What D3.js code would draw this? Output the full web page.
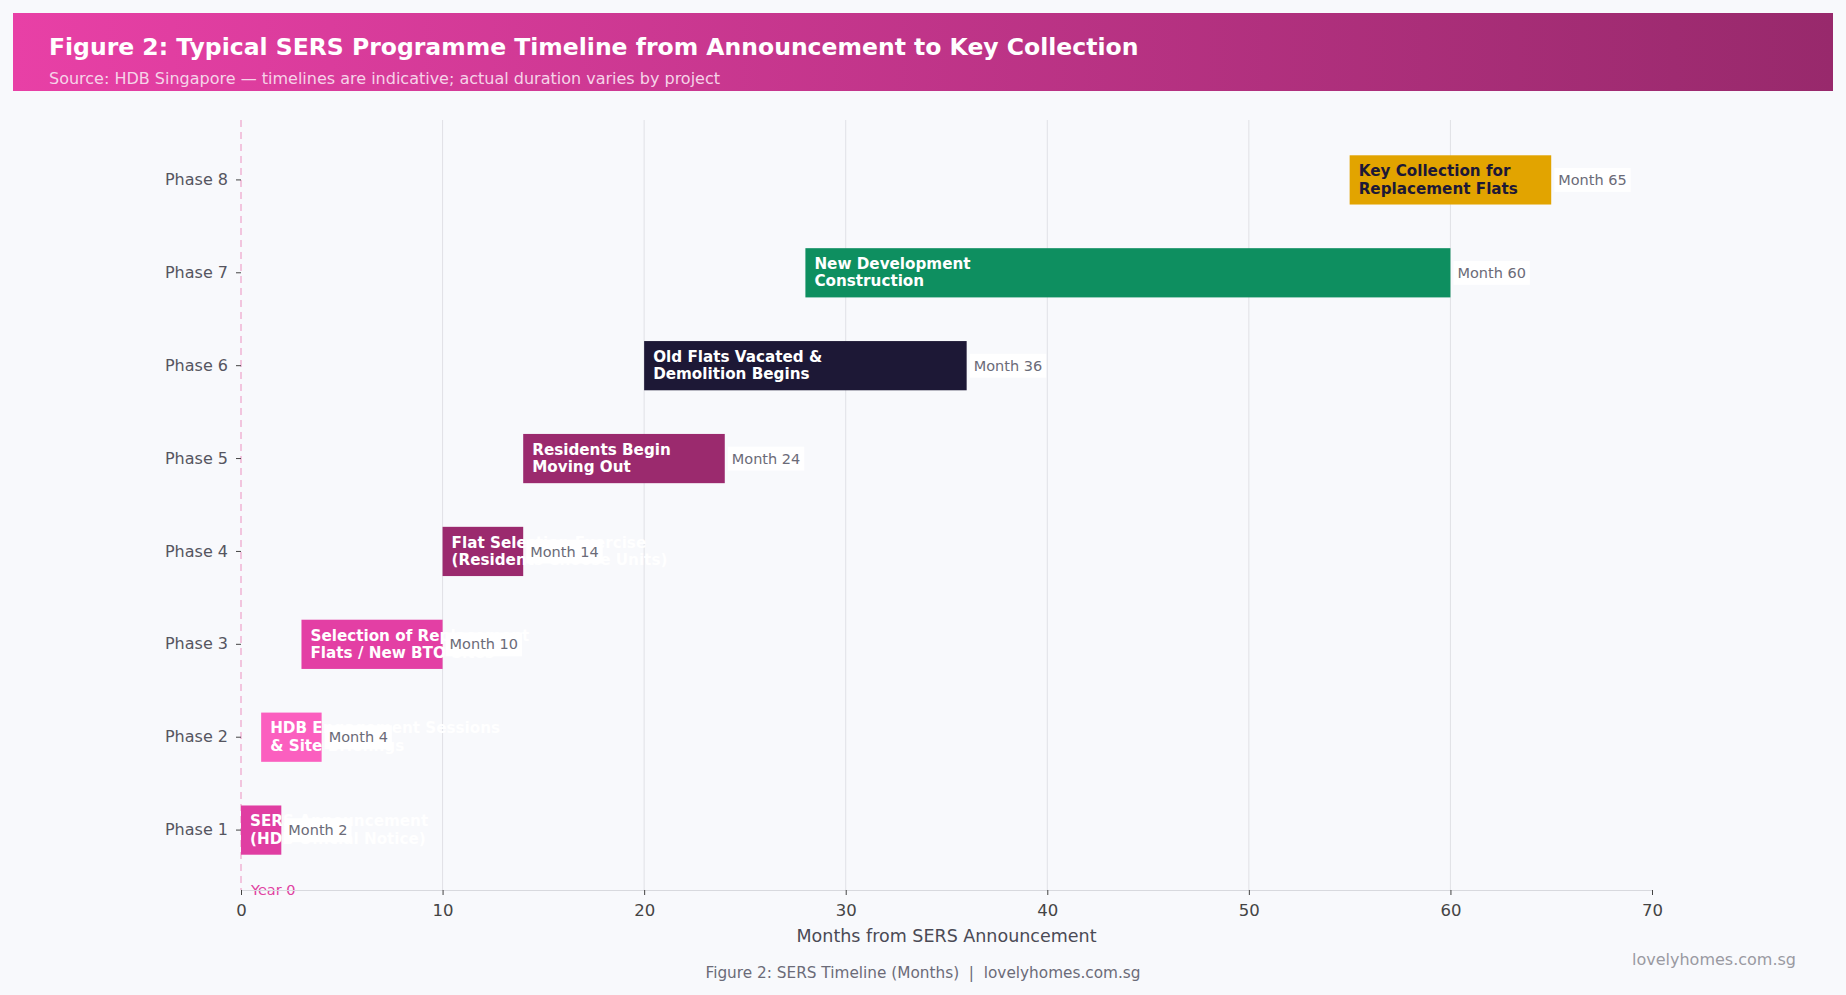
<!DOCTYPE html>
<html>
<head>
  <meta charset="UTF-8" />
  <title>SERS Timeline</title>
  <style>
    html, body { margin: 0; padding: 0; background: #f8f9fc; }
    svg { display: block; font-family: "DejaVu Sans", sans-serif; }
  </style>
</head>
<body>
  <svg id="chart" width="1846" height="995"></svg>

<script src="https://cdn.jsdelivr.net/npm/d3@7"></script>
<script>
  // data
  const phases = ["Phase 1", "Phase 2", "Phase 3", "Phase 4", "Phase 5", "Phase 6", "Phase 7", "Phase 8"];
  const phaseLabels = [
    "SERS Announcement\n(HDB Official Notice)",
    "HDB Engagement Sessions\n& Site Briefings",
    "Selection of Replacement\nFlats / New BTO Sites",
    "Flat Selection Exercise\n(Residents Choose Units)",
    "Residents Begin\nMoving Out",
    "Old Flats Vacated &\nDemolition Begins",
    "New Development\nConstruction",
    "Key Collection for\nReplacement Flats"
  ];
  const startMonths = [0, 1, 3, 10, 14, 20, 28, 55];
  const endMonths = [2, 4, 10, 14, 24, 36, 60, 65];
  const xTicks = [0, 10, 20, 30, 40, 50, 60, 70];

  // colours per bar
  const barColors = ["#e03ea2", "#fb5fbf", "#e33fa4", "#9b2a6e", "#9b2a6e", "#1d1836", "#0e8f60", "#e2a400"];
  const textColors = ["#fff", "#fff", "#fff", "#fff", "#fff", "#fff", "#fff", "#1d1836"];

  const svg = d3.select("#chart");

  // header banner with gradient
  const defs = svg.append("defs");
  const grad = defs.append("linearGradient").attr("id", "hdr").attr("x1", "0%").attr("x2", "100%");
  grad.append("stop").attr("offset", "0%").attr("stop-color", "#e840a6");
  grad.append("stop").attr("offset", "100%").attr("stop-color", "#98296c");

  svg.append("rect")
    .attr("x", 13).attr("y", 13)
    .attr("width", 1820).attr("height", 78)
    .attr("fill", "url(#hdr)");

  svg.append("text")
    .attr("x", 49).attr("y", 55)
    .attr("fill", "#fff")
    .attr("font-size", "23.5px")
    .attr("font-weight", "bold")
    .text("Figure 2: Typical SERS Programme Timeline from Announcement to Key Collection");

  svg.append("text")
    .attr("x", 49).attr("y", 84)
    .attr("fill", "#f6d3e8")
    .attr("font-size", "16px")
    .text("Source: HDB Singapore \u2014 timelines are indicative; actual duration varies by project");

  // scales
  const plotLeft = 241, plotRight = 1652, plotTop = 120, plotBottom = 890;
  const x = d3.scaleLinear().domain([0, 70]).range([plotLeft, plotRight]);
  const y = d3.scaleBand().domain(phases).range([plotBottom, plotTop])
    .paddingInner(0.47).paddingOuter(0.38);

  // gridlines
  svg.append("g")
    .selectAll("line")
    .data(xTicks.filter(d => d > 0 && d < 70))
    .join("line")
    .attr("x1", d => x(d)).attr("x2", d => x(d))
    .attr("y1", plotTop).attr("y2", plotBottom)
    .attr("stroke", "#e0e1e6")
    .attr("stroke-width", 1);

  // year 0 marker
  svg.append("line")
    .attr("x1", x(0)).attr("x2", x(0))
    .attr("y1", plotTop).attr("y2", plotBottom)
    .attr("stroke", "#f0b4d4")
    .attr("stroke-width", 1.5)
    .attr("stroke-dasharray", "7,5");

  svg.append("text")
    .attr("x", x(0) + 10).attr("y", plotBottom + 5)
    .attr("fill", "#e040a0")
    .attr("font-size", "14.5px")
    .text("Year 0");

  // bars
  const rows = phases.map((p, i) => ({
    phase: p, label: phaseLabels[i], start: startMonths[i], end: endMonths[i], i: i
  }));

  svg.append("g")
    .selectAll("rect")
    .data(rows)
    .join("rect")
    .attr("x", d => x(d.start))
    .attr("y", d => y(d.phase))
    .attr("width", d => x(d.end) - x(d.start))
    .attr("height", y.bandwidth())
    .attr("fill", d => barColors[d.i]);

  // bar labels (they run past short bars, as in the original)
  const labels = svg.append("g")
    .selectAll("text")
    .data(rows)
    .join("text")
    .attr("x", d => x(d.start) + 9)
    .attr("y", d => y(d.phase) + y.bandwidth() / 2)
    .attr("fill", d => textColors[d.i])
    .attr("font-size", "15.2px")
    .attr("font-weight", "bold");

  labels.each(function (d) {
    const lines = d.label.split("\n");
    const t = d3.select(this);
    lines.forEach((ln, k) => {
      t.append("tspan")
        .attr("x", x(d.start) + 9)
        .attr("dy", k === 0 ? "-0.25em" : "1.15em")
        .text(ln);
    });
  });

  // month labels with a white box behind
  const monthG = svg.append("g");
  rows.forEach(d => {
    const g = monthG.append("g");
    const t = g.append("text")
      .attr("x", x(d.end) + 7)
      .attr("y", y(d.phase) + y.bandwidth() / 2)
      .attr("dy", "0.35em")
      .attr("fill", "#6b6b78")
      .attr("font-size", "14.5px")
      .text("Month " + d.end);
    const bb = t.node().getBBox();
    g.insert("rect", "text")
      .attr("x", bb.x - 4).attr("y", bb.y - 4)
      .attr("width", bb.width + 8).attr("height", bb.height + 8)
      .attr("fill", "#ffffff")
      .attr("opacity", 0.88);
  });

  // axes
  const xAxis = svg.append("g")
    .attr("transform", `translate(0,${plotBottom})`)
    .call(d3.axisBottom(x).tickValues(xTicks).tickSize(5).tickPadding(9));
  xAxis.select(".domain").attr("stroke", "#d8d9de");
  xAxis.selectAll(".tick line").attr("stroke", "#444");
  xAxis.selectAll(".tick text")
    .attr("font-size", "16.5px")
    .attr("font-family", "DejaVu Sans")
    .attr("fill", "#444");

  const yAxis = svg.append("g")
    .attr("transform", `translate(${plotLeft},0)`)
    .call(d3.axisLeft(y).tickSize(5).tickPadding(8));
  yAxis.select(".domain").remove();
  yAxis.selectAll(".tick line").attr("stroke", "#444");
  yAxis.selectAll(".tick text")
    .attr("font-size", "16px")
    .attr("font-family", "DejaVu Sans")
    .attr("fill", "#555560");

  // axis title
  svg.append("text")
    .attr("x", (plotLeft + plotRight) / 2).attr("y", 942)
    .attr("text-anchor", "middle")
    .attr("fill", "#4a4a55")
    .attr("font-size", "17.5px")
    .text("Months from SERS Announcement");

  // caption and watermark
  svg.append("text")
    .attr("x", 923).attr("y", 978)
    .attr("text-anchor", "middle")
    .attr("fill", "#6b6b78")
    .attr("font-size", "15.3px")
    .style("white-space", "pre")
    .text("Figure 2: SERS Timeline (Months)  |  lovelyhomes.com.sg");

  svg.append("text")
    .attr("x", 1796).attr("y", 965)
    .attr("text-anchor", "end")
    .attr("fill", "#9a9aa2")
    .attr("font-size", "16px")
    .text("lovelyhomes.com.sg");
</script>
</body>
</html>
